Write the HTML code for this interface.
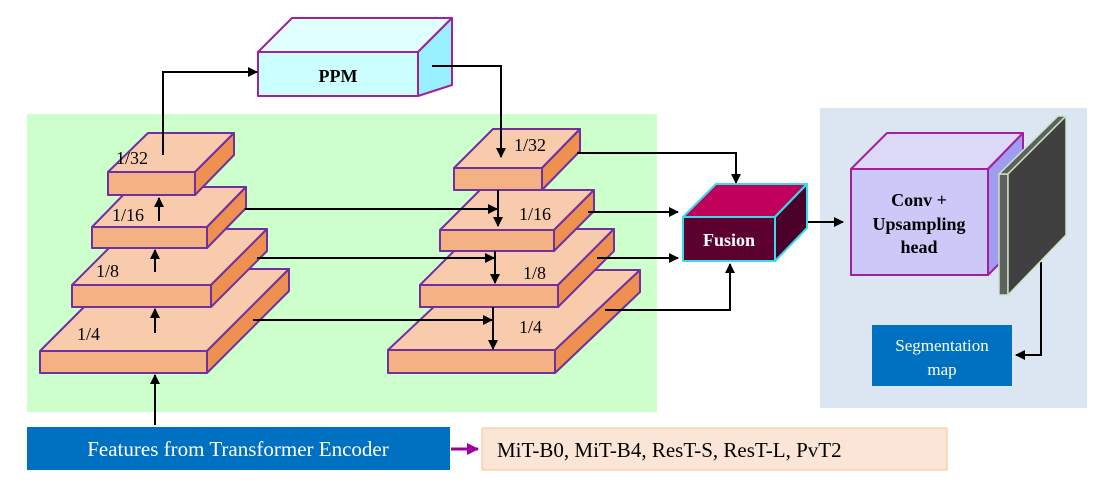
<!DOCTYPE html>
<html><head><meta charset="utf-8"><style>
html,body{margin:0;padding:0;background:#fff;}
svg{display:block;font-family:"Liberation Serif",serif;}
</style></head><body>
<svg width="1105" height="497" viewBox="0 0 1105 497" xmlns="http://www.w3.org/2000/svg">
<defs>
<marker id="a" markerWidth="10" markerHeight="10" refX="9" refY="5" orient="auto" markerUnits="userSpaceOnUse"><path d="M0,0 L10,5 L0,10 z" fill="#000"/></marker>
<marker id="p" markerWidth="12" markerHeight="12" refX="11" refY="6" orient="auto" markerUnits="userSpaceOnUse"><path d="M0,0 L12,6 L0,12 z" fill="#a000a0"/></marker>
</defs>
<rect x="27" y="114" width="630" height="298" fill="#ccffcc"/>
<rect x="820" y="108" width="267" height="300" fill="#dce6f2"/>

<g stroke="#7030a0" stroke-width="2" stroke-linejoin="round">
<g><path d="M40,351 L122,269 L289,269 L207,351z" fill="#f8cbad"/><path d="M207,351 L289,269 L289,291 L207,373z" fill="#ed9050"/><rect x="40" y="351" width="167" height="22" fill="#f4b183"/></g>
<g><path d="M72,285 L128,229 L267,229 L211,285z" fill="#f8cbad"/><path d="M211,285 L267,229 L267,251 L211,307z" fill="#ed9050"/><rect x="72" y="285" width="139" height="22" fill="#f4b183"/></g>
<g><path d="M92,227 L131,187 L246,187 L207,227z" fill="#f8cbad"/><path d="M207,227 L246,187 L246,208 L207,248z" fill="#ed9050"/><rect x="92" y="227" width="115" height="21" fill="#f4b183"/></g>
<g><path d="M108,172 L148,133 L234,133 L195,172z" fill="#f8cbad"/><path d="M195,172 L234,133 L234,155 L195,195z" fill="#ed9050"/><rect x="108" y="172" width="87" height="23" fill="#f4b183"/></g>
<g><path d="M388,350 L473,270 L640,270 L555,350z" fill="#f8cbad"/><path d="M555,350 L640,270 L640,292 L555,373z" fill="#ed9050"/><rect x="388" y="350" width="167" height="23" fill="#f4b183"/></g>
<g><path d="M420,285 L476,229 L614,229 L558,285z" fill="#f8cbad"/><path d="M558,285 L614,229 L614,251 L558,307z" fill="#ed9050"/><rect x="420" y="285" width="138" height="22" fill="#f4b183"/></g>
<g><path d="M440,230 L480,190 L594,190 L554,230z" fill="#f8cbad"/><path d="M554,230 L594,190 L594,211 L554,251z" fill="#ed9050"/><rect x="440" y="230" width="114" height="21" fill="#f4b183"/></g>
<g><path d="M454,168 L493,129 L580,129 L542,168z" fill="#f8cbad"/><path d="M542,168 L580,129 L580,151 L542,190z" fill="#ed9050"/><rect x="454" y="168" width="88" height="22" fill="#f4b183"/></g>
</g>
<g stroke="#a020a0" stroke-width="2" stroke-linejoin="round">
<path d="M258,52 L292,18 L452,18 L418,52z" fill="#e0ffff"/>
<path d="M418,52 L452,18 L452,85 L418,96z" fill="#99f0ff"/>
<rect x="258" y="52" width="160" height="44" fill="#ccffff"/>
</g>
<text x="338" y="82" font-size="18" font-weight="bold" text-anchor="middle">PPM</text>

<g font-size="18">
<text x="116" y="164">1/32</text><text x="112" y="221">1/16</text><text x="96" y="277">1/8</text><text x="77" y="340">1/4</text>
<text x="514" y="151">1/32</text><text x="519" y="220">1/16</text><text x="523" y="279">1/8</text><text x="519" y="333">1/4</text>
</g>

<g stroke="#000" stroke-width="2" fill="none">
<path d="M155,425 V375" marker-end="url(#a)"/>
<path d="M155,333 V309" marker-end="url(#a)"/>
<path d="M155,272 V250" marker-end="url(#a)"/>
<path d="M159,221 V198" marker-end="url(#a)"/>
<path d="M163,155 V72 H257" marker-end="url(#a)"/>
<path d="M432,66 H501 V157" marker-end="url(#a)"/>
<path d="M245,209 H497" marker-end="url(#a)"/>
<path d="M498,190 V226" marker-end="url(#a)"/>
<path d="M257,258 H494" marker-end="url(#a)"/>
<path d="M495,251 V283" marker-end="url(#a)"/>
<path d="M253,320 H492" marker-end="url(#a)"/>
<path d="M493,307 V349" marker-end="url(#a)"/>
<path d="M577,153 H736 V183" marker-end="url(#a)"/>
<path d="M588,212 H678" marker-end="url(#a)"/>
<path d="M597,258 H678" marker-end="url(#a)"/>
<path d="M605,310 H730 V264" marker-end="url(#a)"/>
<path d="M790,222 H843" marker-end="url(#a)"/>
<path d="M1041,262 V355 H1016" marker-end="url(#a)"/>
</g>

<g stroke="#33ddee" stroke-width="2" stroke-linejoin="round">
<path d="M683,217 L716,184 L807,184 L775,217z" fill="#c0005a"/>
<path d="M775,217 L807,184 L807,228 L775,261z" fill="#4a0028"/>
<rect x="683" y="217" width="92" height="44" fill="#5c0030"/>
</g>
<text x="729" y="246" font-size="18" font-weight="bold" fill="#fff" text-anchor="middle">Fusion</text>

<g stroke="#a020a0" stroke-width="2" stroke-linejoin="round">
<path d="M851,169 L887,133 L1023,133 L988,169z" fill="#dcd8f8"/>
<path d="M988,169 L1023,133 L1023,240 L988,275z" fill="#a09cf0"/>
<rect x="851" y="169" width="137" height="106" fill="#ccc8f8"/>
</g>
<text x="919" y="206" font-size="18" font-weight="bold" text-anchor="middle">Conv +</text>
<text x="919" y="230" font-size="18" font-weight="bold" text-anchor="middle">Upsampling</text>
<text x="919" y="253" font-size="18" font-weight="bold" text-anchor="middle">head</text>
<g stroke="#c8e6c0" stroke-width="1.5" stroke-linejoin="round">
<path d="M999,174 L1008,174 L1008,295 L999,295z" fill="#606060"/>
<path d="M999,174 L1058,116 L1066,116 L1008,174z" fill="#606060"/>
<path d="M1008,174 L1066,116 L1066,235 L1008,295z" fill="#404040"/>
</g>
<rect x="872" y="325" width="140" height="61" fill="#0070c0"/>
<text x="942" y="351" font-size="17" fill="#fff" text-anchor="middle">Segmentation</text>
<text x="942" y="375" font-size="17" fill="#fff" text-anchor="middle">map</text>

<rect x="27" y="427" width="423" height="43" fill="#0070c0"/>
<text x="238" y="456" font-size="21" fill="#fff" text-anchor="middle">Features from Transformer Encoder</text>
<path d="M451,449 H478" stroke="#a000a0" stroke-width="3" marker-end="url(#p)"/>
<rect x="482" y="428" width="465" height="42" fill="#fbe5d6" stroke="#f4c890" stroke-width="1"/>
<text x="497" y="457" font-size="21">MiT-B0, MiT-B4, ResT-S, ResT-L, PvT2</text>
</svg>
</body></html>
